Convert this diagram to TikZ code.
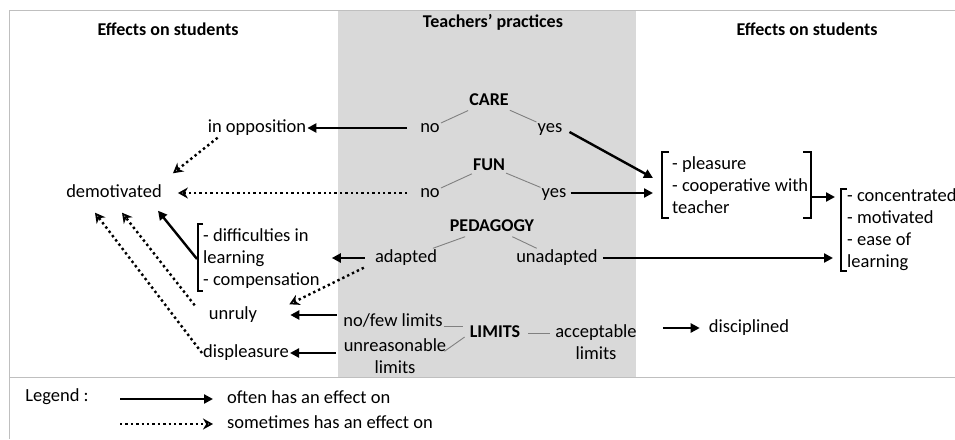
\documentclass[tikz,border=0pt]{standalone}
\usepackage{fontspec}
\setmainfont{Carlito}
\usetikzlibrary{arrows.meta}

\begin{document}
\begin{tikzpicture}[x=1pt,y=-1pt]

    % styles
    \tikzstyle{word} = [inner sep=1pt,font=\fontsize{18.5}{22}\selectfont]
    \tikzstyle{txt} = [word,text height=13pt,text depth=4pt]
    \tikzstyle{title} = [txt,font=\fontsize{18}{22}\selectfont\bfseries]
    \tikzstyle{lst} = [word,align=left,anchor=west]
    \tikzstyle{two} = [word,align=center]
    \tikzstyle{branch} = [draw=black!50,line width=0.9pt]
    \tikzstyle{often} = [draw=black,line width=2.4pt,-{Triangle[length=9pt,width=9pt]}]
    \tikzstyle{sometimes} = [draw=black,line width=2.4pt,dash pattern=on 2.4pt off 3pt,
        -{Stealth[open,length=10pt,width=11pt,line width=2pt]}]
    \tikzstyle{bracket} = [draw=black,line width=2pt]
    \tikzstyle{frame} = [draw=black!25,line width=1pt]

    \useasboundingbox (0,0) rectangle (955,439);

    % frame
    \fill[black!15] (338,10) rectangle (636,377);
    \draw[frame] (955,10) -- (9,10) -- (9,439);
    \draw[frame] (9,377) -- (955,377);

    % headings
    \node[title] (effLeft) at (168,31) {Effects on students};
    \node[title] (practices) at (493,23) {Teachers’ practices};
    \node[title] (effRight) at (807,31) {Effects on students};

    % care
    \node[title] (care) at (489,101) {CARE};
    \node[txt] (careNo) at (430,128) {no};
    \node[txt] (careYes) at (550,128) {yes};
    \draw[branch] (care) -- (careNo);
    \draw[branch] (care) -- (careYes);

    % fun
    \node[title] (fun) at (489,166) {FUN};
    \node[txt] (funNo) at (430,193) {no};
    \node[txt] (funYes) at (554,193) {yes};
    \draw[branch] (fun) -- (funNo);
    \draw[branch] (fun) -- (funYes);

    % pedagogy
    \node[title] (pedagogy) at (492,227) {PEDAGOGY};
    \node[txt] (adapted) at (406,258) {adapted};
    \node[txt] (unadapted) at (557,258) {unadapted};
    \draw[branch] (pedagogy) -- (adapted);
    \draw[branch] (pedagogy) -- (unadapted);

    % limits
    \node[title] (limits) at (495,333) {LIMITS};
    \node[txt] (fewLimits) at (393,322) {no/few limits};
    \node[two] (unreasonable) at (395,356) {unreasonable\\limits};
    \node[two] (acceptable) at (596,342) {acceptable\\limits};
    \draw[branch] ([yshift=-4pt]fewLimits.east) -- ([xshift=-6pt,yshift=7pt]limits.west);
    \draw[branch] ([xshift=-3pt,yshift=-14pt]unreasonable.north east)
        -- ([xshift=-4pt,yshift=-4pt]limits.west);
    \draw[branch,shorten <=7pt,shorten >=4pt] (limits.east) -- (limits.east -| acceptable.west);

    % effects left
    \node[txt] (opposition) at (257,128) {in opposition};
    \node[txt] (demotivated) at (114,193) {demotivated};
    \node[lst] (difficulties) at (202,259) {- difficulties in\\learning\\- compensation};
    \node[txt] (unruly) at (233,315) {unruly};
    \node[txt] (displeasure) at (246,353) {displeasure};
    \draw[bracket] ([xshift=1pt,yshift=4pt]difficulties.north west)
        -| ([xshift=-4pt,yshift=-1pt]difficulties.south west) -- ++(5,0);

    % effects right
    \node[lst] (pleasure) at (671,185) {- pleasure\\- cooperative with\\teacher};
    \node[lst] (concentrated) at (846,230) {- concentrated\\- motivated\\- ease of\\learning};
    \node[txt] (disciplined) at (749,328) {disciplined};
    \draw[bracket] ([xshift=-2pt,yshift=3pt]pleasure.north west)
        -| ([xshift=-9pt,yshift=-3pt]pleasure.south west) -- ++(7,0);
    \draw[bracket] ([xshift=-6pt,yshift=3pt]pleasure.north east)
        -| ([xshift=2pt,yshift=-3pt]pleasure.south east) -- ++(-8,0);
    \draw[bracket] ([xshift=1pt,yshift=-1pt]concentrated.north west)
        -| ([xshift=-5pt,yshift=1pt]concentrated.south west) -- ++(6,0);

    % effects of care and fun
    \draw[often,shorten <=12pt] (careNo.west) -- (opposition.east);
    \draw[sometimes] ([xshift=11pt]opposition.south west)
        -- ([xshift=10pt,yshift=10pt]demotivated.north east);
    \draw[sometimes,shorten <=12pt,shorten >=15pt] (funNo.west) -- (demotivated.east);
    \draw[often] ([xshift=6pt,yshift=-4pt]careYes.east) -- ([xshift=-18pt,yshift=7pt]pleasure.west);
    \draw[often,shorten <=3pt,shorten >=18pt] (funYes.east) -- (funYes.east -| pleasure.west);
    \coordinate (join) at ([xshift=2pt,yshift=-12pt]pleasure.east);
    \draw[often,shorten >=11pt] (join) -- (join -| concentrated.west);

    % effects of pedagogy
    \draw[often,shorten <=4pt,shorten >=13pt] (unadapted.east) -- (unadapted.east -| concentrated.west);
    \draw[often,shorten <=9pt,shorten >=11pt] (adapted.west) -- (adapted.west -| difficulties.east);
    \draw[sometimes] ([xshift=-10pt]adapted.south west) -- ([xshift=31pt,yshift=1pt]unruly.north east);
    \draw[often] ([xshift=-5pt]difficulties.west) -- ([xshift=44pt,yshift=-8pt]demotivated.south);
    \draw[sometimes] ([xshift=-13pt]unruly.north west) -- ([xshift=8pt,yshift=-10pt]demotivated.south);
    \draw[sometimes] (displeasure.west) -- ([xshift=-19pt,yshift=-10pt]demotivated.south);

    % effects of limits
    \draw[often,shorten <=5pt,shorten >=32pt] (unruly.east -| fewLimits.west) -- (unruly.east);
    \draw[often,shorten <=7pt] (displeasure.east -| unreasonable.west) -- (displeasure.east);
    \draw[often,shorten <=25pt,shorten >=8pt] (disciplined.west -| acceptable.east) -- (disciplined.west);

    % legend
    \node[txt] (legend) at (57,397) {Legend :};
    \node[txt,anchor=west] (keyOften) at (226,399) {often has an effect on};
    \node[txt,anchor=west] (keySometimes) at (226,424) {sometimes has an effect on};
    \coordinate (keyA) at (120,399);
    \coordinate (keyB) at (120,424);
    \draw[often,shorten >=13pt] (keyA) -- (keyOften.west);
    \draw[sometimes,shorten >=13pt] (keyB) -- (keySometimes.west);
\end{tikzpicture}
\end{document}
